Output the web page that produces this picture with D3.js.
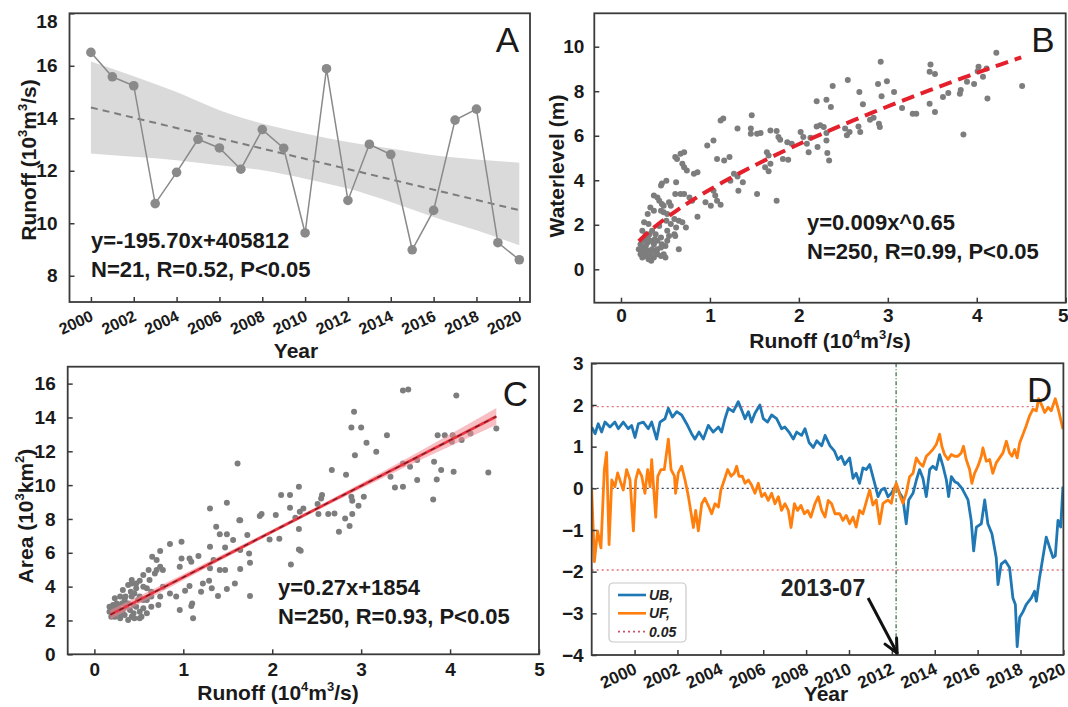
<!DOCTYPE html>
<html>
<head>
<meta charset="utf-8">
<script src="https://cdn.jsdelivr.net/npm/d3@7"></script>
<style>
body { margin: 0; background: #fff; }
text { font-family: "Liberation Sans", Arial, sans-serif; }
</style>
</head>
<body>
<div id="chart"></div>
<script>
// ---- panel A : yearly runoff ----
var yearsA = [2000, 2001, 2002, 2003, 2004, 2005, 2006, 2007, 2008, 2009, 2010,
              2011, 2012, 2013, 2014, 2015, 2016, 2017, 2018, 2019, 2020];
var runoffA = [16.51, 15.58, 15.24, 10.75, 11.94, 13.20, 12.87, 12.06, 13.57, 12.86, 9.63,
               15.89, 10.87, 13.01, 12.62, 8.99, 10.49, 13.93, 14.35, 9.26, 8.61];
var bandYearsA = [2000, 2002, 2004, 2006, 2008, 2010, 2012, 2014, 2016, 2018, 2020];
var bandUpperA = [16.16, 15.60, 15.00, 14.31, 13.80, 13.42, 13.10, 12.85, 12.59, 12.43, 12.31];
var bandLowerA = [12.66, 12.53, 12.40, 12.21, 12.02, 11.70, 11.32, 10.81, 10.24, 9.73, 9.16];
var fitA = { slope: -195.70, intercept: 405812 }; // m3/s per year
var tickYearsA = [2000, 2002, 2004, 2006, 2008, 2010, 2012, 2014, 2016, 2018, 2020];

// ---- panel B : runoff vs water level ----
var pointsB = [[2.92,9.32],[4.22,9.73],[3.48,9.2],[3.47,8.87],[3.53,8.77],[2.55,8.5],[2.38,8.23],[2.89,8.32],[2.99,8.45],
  [2.68,7.97],[2.93,7.77],[3.07,7.97],[2.2,7.55],[2.31,7.62],[2.36,7.29],[2.72,7.41],[3.16,7.25],[3.28,6.99],[3.32,6.99],
  [3.47,7.44],[3.53,7.07],[3.62,7.74],[3.68,7.92],[3.81,7.89],[3.82,8.05],[3.89,8.42],[3.97,8.32],[4.02,9.1],[4.07,8.65],
  [4.11,9.02],[4.12,7.67],[3.85,6.06],[4.51,8.23],[4.01,8.9],[2.84,6.81],[2.9,6.54],[2.91,6.39],[2.8,6.72],[2.67,6.42],
  [2.52,6.32],[2.54,6.02],[2.57,6.17],[2.69,6.17],[2.24,6.47],[2.2,6.42],[2.28,6.39],[2.31,6.12],[2.31,5.79],[2.21,5.49],
  [2.34,4.89],[2.32,5.22],[2.09,5.64],[2.11,5.26],[2.02,6.17],[2.05,5.94],[1.92,5.64],[2.13,5.91],[1.87,5.71],[1.79,5.82],
  [1.82,4.96],[1.88,4.92],[1.68,6.24],[1.75,6.21],[1.77,5.94],[1.64,5.26],[1.66,5.11],[1.68,4.74],[1.62,4.59],[1.66,4.41],
  [1.75,3.08],[1.53,3.38],[1.46,6.32],[1.46,6.09],[1.47,6.92],[1.53,6.09],[1.57,6.12],[1.31,6.32],[1.12,6.69],[1.15,6.77],
  [1.04,5.79],[0.97,5.56],[1.08,4.96],[1.16,4.89],[1.22,5.04],[1.27,4.29],[1.31,4.17],[1.32,3.53],[1.37,3.91],[1.23,3.98],
  [1.04,3.53],[1.06,3.31],[1.08,3.08],[1.12,2.9],[1.01,2.86],[0.95,3.01],[0.86,2.36],[0.8,3.08],[0.77,3.23],[0.82,4.29],
  [0.86,4.36],[0.74,4.44],[0.71,4.59],[0.69,4.74],[0.67,5.19],[0.63,4.96],[0.71,5.26],[0.61,5.04],[0.62,3.91],[0.67,3.38],
  [0.71,3.38],[0.61,3.38],[0.65,2.18],[0.69,2.11],[0.73,1.88],[0.62,1.88],[0.6,1.58],[0.61,1.5],[0.65,0.9],[0.51,2.18],
  [0.48,2.56],[0.46,3.86],[0.45,3.76],[0.51,3.98],[0.41,3.23],[0.37,3.31],[0.43,3.08],[0.46,2.93],[0.54,3.01],[0.56,2.86],
  [0.48,2.86],[0.33,2.78],[0.45,2.63],[0.52,2.48],[0.6,2.26],[0.56,2.03],[0.52,1.73],[0.54,1.5],[0.5,1.05],[0.52,1.28],
  [0.37,2.63],[0.3,2.48],[0.26,2.11],[0.24,1.73],[0.22,1.13],[0.28,1.58],[0.31,2.03],[0.35,1.73],[0.39,1.58],[0.43,1.95],
  [0.45,1.43],[0.46,1.13],[0.41,0.9],[0.37,1.13],[0.33,1.28],[0.3,1.43],[0.26,1.28],[0.2,0.9],[0.22,0.68],[0.24,0.83],
  [0.28,0.6],[0.31,0.45],[0.34,0.38],[0.37,0.53],[0.41,0.68],[0.45,0.6],[0.48,0.68],[0.3,0.83],[0.26,0.98],[0.35,0.9],
  [0.39,0.75],[0.33,0.68],[0.28,1.05],[0.22,0.9],[0.32,1.58],[0.41,1.28],[0.45,0.98],[0.5,0.53],[0.24,0.53],[0.38,1.35],
  [0.3,1.2],[0.27,0.75]];
var fitB = { coef: 0.009, power: 0.65, from: 0.2, to: 4.5 }; // x in m3/s

// ---- panel C : runoff vs area ----
var pointsC = [[3.53,15.65],[3.47,15.6],[4.07,15.3],[2.92,14.33],[2.89,13.4],[3.0,13.4],[3.29,12.95],[3.06,12.5],[3.17,11.97],
  [2.93,11.77],[3.86,12.95],[3.94,12.95],[4.03,12.95],[4.13,12.66],[4.23,13.05],[4.52,13.35],[4.02,12.56],[3.63,11.48],
  [3.47,11.28],[3.55,11.08],[3.82,11.38],[3.9,10.89],[3.85,10.33],[3.63,10.3],[3.47,9.9],[3.38,9.86],[3.81,9.15],[4.04,10.79],
  [4.43,10.75],[3.33,10.49],[2.67,10.89],[2.83,10.61],[2.89,9.31],[2.9,9.07],[3.03,9.31],[2.97,8.78],[2.7,8.33],[2.63,8.29],
  [2.82,8.03],[2.9,8.29],[2.75,7.24],[2.87,7.58],[2.55,9.21],[2.56,9.41],[2.51,8.88],[2.52,8.29],[2.3,9.9],[2.2,9.41],
  [2.1,9.41],[2.2,8.66],[2.31,8.43],[2.35,8.62],[2.26,8.07],[2.04,8.23],[1.86,8.17],[1.88,8.29],[2.08,6.83],[1.97,6.79],
  [2.3,7.4],[2.32,6.12],[2.3,6.2],[2.21,5.31],[1.72,7.05],[1.63,7.93],[1.64,7.93],[1.61,11.28],[1.49,8.96],[1.49,7.09],
  [1.41,7.09],[1.56,6.75],[1.47,6.32],[1.3,8.62],[1.3,6.36],[0.98,6.65],[1.07,5.67],[1.09,5.47],[1.17,5.81],[1.3,5.08],
  [1.41,4.98],[1.64,6.16],[1.74,5.96],[1.75,5.41],[1.64,5.04],[1.47,4.98],[1.49,3.86],[1.58,4.19],[1.75,3.44],[1.39,3.44],
  [1.29,4.35],[1.22,4.19],[1.32,3.9],[1.07,4.04],[1.02,3.76],[0.92,3.41],[0.96,2.62],[1.11,2.13],[1.1,3.01],[1.09,2.85],
  [0.98,5.67],[0.96,5.18],[0.85,6.52],[0.74,6.1],[0.65,5.77],[0.7,5.57],[0.74,5.18],[0.77,4.98],[0.68,4.78],[0.62,4.39],
  [0.77,4.0],[0.85,3.6],[0.74,3.41],[0.72,2.91],[0.64,2.81],[0.55,3.21],[0.47,4.19],[0.42,4.39],[0.45,3.6],[0.51,3.41],
  [0.59,3.9],[0.64,3.41],[0.38,4.1],[0.32,3.8],[0.29,3.41],[0.25,3.01],[0.21,2.62],[0.19,2.22],[0.23,2.22],[0.27,2.42],
  [0.29,2.13],[0.32,2.62],[0.34,2.32],[0.36,2.81],[0.38,3.01],[0.4,2.62],[0.42,2.22],[0.44,2.42],[0.45,2.13],[0.47,2.81],
  [0.51,2.52],[0.53,2.22],[0.55,2.72],[0.59,2.42],[0.25,2.72],[0.31,3.01],[0.21,2.91],[0.17,2.52],[0.23,3.31],[0.34,3.21],
  [0.42,3.41],[0.49,3.21],[0.44,2.91],[0.29,2.62],[0.38,2.03],[0.51,2.13],[0.17,2.81],[0.27,2.81],[0.31,2.42],[0.35,3.41],
  [0.41,3.7],[0.47,3.9],[0.42,4.19],[0.51,4.35],[0.55,4.0],[0.59,3.21],[0.64,3.7],[0.7,4.98],[0.61,4.98],[0.55,4.69],
  [1.2,3.7],[1.34,5.57],[1.37,7.54]];
var fitC = { slope: 0.27, intercept: 1854, from: 0.18, to: 4.52 }; // x in m3/s, y in km2
var bandRunoffC = [0.18, 1.0, 2.0, 2.5, 3.0, 4.0, 4.52];
var bandHalfC = [0.28, 0.18, 0.12, 0.12, 0.15, 0.35, 0.5];

// ---- panel D : Mann-Kendall UB / UF ----
var ubSeries = [[2000.00,1.47],[2000.15,1.31],[2000.29,1.55],[2000.44,1.35],[2000.59,1.59],[2000.81,1.47],[2001.03,1.59],
  [2001.18,1.43],[2001.40,1.59],[2001.62,1.43],[2001.77,1.51],[2001.92,1.22],[2002.07,1.55],[2002.29,1.59],[2002.51,1.43],
  [2002.66,1.59],[2002.88,1.18],[2003.03,1.59],[2003.25,1.67],[2003.40,1.92],[2003.58,1.71],[2003.77,1.84],[2003.99,1.76],
  [2004.21,1.55],[2004.43,1.31],[2004.58,1.18],[2004.76,1.35],[2004.95,1.18],[2005.17,1.51],[2005.39,1.35],[2005.62,1.47],
  [2005.76,1.35],[2005.91,1.67],[2006.06,1.92],[2006.28,1.84],[2006.50,2.08],[2006.65,1.88],[2006.80,1.67],[2006.95,1.84],
  [2007.09,1.59],[2007.24,1.80],[2007.46,2.00],[2007.61,1.67],[2007.80,1.59],[2007.98,1.76],[2008.20,1.67],[2008.42,1.43],
  [2008.57,1.47],[2008.75,1.35],[2008.94,1.18],[2009.09,1.35],[2009.31,1.27],[2009.46,1.43],[2009.64,1.10],[2009.83,0.98],
  [2009.98,1.14],[2010.20,1.02],[2010.35,1.27],[2010.57,1.02],[2010.76,0.90],[2010.92,0.69],[2011.07,0.77],[2011.22,0.57],
  [2011.44,0.73],[2011.59,0.24],[2011.73,0.36],[2011.88,0.12],[2012.03,0.49],[2012.18,0.45],[2012.33,0.57],[2012.47,0.28],
  [2012.55,0.12],[2012.70,-0.20],[2012.84,-0.04],[2012.99,0.00],[2013.14,-0.20],[2013.29,-0.12],[2013.51,0.08],[2013.66,-0.12],
  [2013.80,-0.24],[2013.95,-0.85],[2014.06,-0.28],[2014.25,-0.12],[2014.40,0.20],[2014.54,0.45],[2014.69,0.24],[2014.84,-0.20],
  [2014.99,0.45],[2015.13,0.53],[2015.28,0.45],[2015.43,0.81],[2015.58,0.53],[2015.73,0.20],[2015.83,-0.20],[2015.95,0.28],
  [2016.10,0.16],[2016.24,0.12],[2016.42,0.00],[2016.54,-0.12],[2016.69,-0.28],[2016.83,-0.77],[2016.94,-1.50],[2017.06,-0.93],
  [2017.28,-0.85],[2017.43,-0.28],[2017.57,-0.85],[2017.75,-1.09],[2017.94,-1.66],[2018.02,-2.31],[2018.16,-1.82],[2018.34,-1.74],
  [2018.53,-1.90],[2018.68,-2.63],[2018.79,-2.79],[2018.87,-3.80],[2018.98,-3.10],[2019.13,-2.96],[2019.27,-2.79],[2019.50,-2.63],
  [2019.64,-2.47],[2019.72,-2.71],[2019.86,-2.15],[2020.01,-1.66],[2020.16,-1.17],[2020.31,-1.42],[2020.46,-1.66],[2020.56,-1.62],
  [2020.68,-0.77],[2020.80,-0.93],[2020.90,0.04]];
var ufSeries = [[2000.00,-0.04],[2000.12,-1.76],[2000.26,-1.02],[2000.41,-1.43],[2000.56,0.45],[2000.66,0.86],[2000.77,-1.35],
  [2000.89,0.20],[2001.03,0.04],[2001.15,0.37],[2001.30,0.12],[2001.40,-0.04],[2001.55,0.45],[2001.70,0.20],[2001.85,-1.02],
  [2001.95,0.20],[2002.07,0.45],[2002.22,0.29],[2002.36,-0.12],[2002.48,0.45],[2002.59,0.04],[2002.66,0.69],[2002.84,-0.69],
  [2002.93,0.29],[2003.07,0.45],[2003.22,0.45],[2003.40,1.18],[2003.52,0.45],[2003.67,0.29],[2003.72,-0.12],[2003.84,0.37],
  [2003.99,0.53],[2004.14,0.20],[2004.29,-0.20],[2004.51,-0.94],[2004.61,-0.53],[2004.73,-1.02],[2004.88,-0.37],[2005.02,-0.24],
  [2005.20,-0.45],[2005.32,-0.61],[2005.47,-0.37],[2005.62,-0.45],[2005.73,-0.04],[2005.88,0.20],[2006.03,0.45],[2006.18,0.29],
  [2006.33,0.37],[2006.43,0.53],[2006.53,0.29],[2006.68,0.29],[2006.80,0.12],[2006.95,0.20],[2007.09,0.08],[2007.24,-0.12],
  [2007.39,0.12],[2007.54,-0.20],[2007.68,-0.12],[2007.83,-0.29],[2007.98,-0.12],[2008.13,-0.37],[2008.28,-0.20],[2008.42,-0.53],
  [2008.57,-0.37],[2008.72,-0.53],[2008.84,-0.94],[2008.99,-0.37],[2009.13,-0.53],[2009.28,-0.41],[2009.43,-0.61],[2009.58,-0.53],
  [2009.72,-0.69],[2009.90,-0.37],[2010.05,-0.20],[2010.20,-0.53],[2010.35,-0.69],[2010.49,-0.29],[2010.64,-0.37],[2010.79,-0.61],
  [2011.00,-0.61],[2011.14,-0.77],[2011.29,-0.65],[2011.44,-0.85],[2011.59,-0.69],[2011.73,-0.93],[2011.88,-0.53],[2012.03,-0.61],
  [2012.18,-0.32],[2012.33,-0.04],[2012.47,-0.40],[2012.62,-0.28],[2012.77,-0.85],[2012.92,-0.36],[2013.14,-0.28],[2013.29,-0.36],
  [2013.41,-0.04],[2013.51,0.12],[2013.66,-0.16],[2013.80,-0.36],[2013.95,-0.12],[2014.10,0.28],[2014.25,0.36],[2014.40,0.73],
  [2014.54,0.61],[2014.69,0.53],[2014.84,0.77],[2014.99,0.85],[2015.13,0.93],[2015.28,1.05],[2015.43,1.30],[2015.53,1.01],
  [2015.65,0.81],[2015.80,0.69],[2015.95,0.81],[2016.10,0.77],[2016.24,0.77],[2016.39,0.85],[2016.49,1.01],[2016.61,0.69],
  [2016.76,0.45],[2016.86,0.12],[2016.98,0.36],[2017.13,0.53],[2017.28,0.77],[2017.35,0.97],[2017.50,0.65],[2017.65,0.69],
  [2017.79,0.36],[2017.94,0.61],[2018.09,0.73],[2018.24,0.85],[2018.39,1.13],[2018.53,0.85],[2018.64,0.77],[2018.76,0.93],
  [2018.87,0.73],[2018.98,1.09],[2019.13,1.30],[2019.27,1.50],[2019.42,1.74],[2019.57,1.90],[2019.72,1.86],[2019.82,2.15],
  [2019.94,2.02],[2020.09,1.82],[2020.24,1.94],[2020.38,1.86],[2020.56,2.15],[2020.71,1.86],[2020.90,1.42]];
var tickYearsD = [2000, 2002, 2004, 2006, 2008, 2010, 2012, 2014, 2016, 2018, 2020];
var changePoint = { year: 2013.5, label: "2013-07" };
var critLevel = 1.96;

var FONT = '"Liberation Sans", Arial, sans-serif',
    INK = "#1a1a1a",
    AXIS = "#3a3a3a";

var svg = d3.select("#chart").append("svg")
    .attr("width", 1068)
    .attr("height", 707);

function drawFrame(b) {
    svg.append("rect")
        .attr("x", b.left).attr("y", b.top)
        .attr("width", b.right - b.left).attr("height", b.bottom - b.top)
        .attr("fill", "none").attr("stroke", AXIS).attr("stroke-width", 1.8);
}

function styleAxis(g, size) {
    g.select(".domain").remove();
    g.selectAll("line").attr("stroke", AXIS).attr("stroke-width", 1.5);
    g.selectAll("text")
        .attr("font-size", size).attr("font-weight", "bold")
        .attr("font-family", FONT).attr("fill", INK);
}

// text with superscripts, parts = [[str, isSup], ...]
function richText(sel, parts, fs) {
    var up = false;
    parts.forEach(function(p) {
        var t = sel.append("tspan").text(p[0]);
        if (p[1]) {
            t.attr("font-size", fs * 0.62);
            if (!up) { t.attr("dy", -fs * 0.42); up = true; }
        } else if (up) {
            t.attr("dy", fs * 0.42); up = false;
        }
    });
}

function title(x, y, parts, rotate) {
    var t = svg.append("text")
        .attr("font-size", 21).attr("font-weight", "bold")
        .attr("fill", INK).attr("text-anchor", "middle");
    if (rotate) t.attr("transform", "translate(" + x + "," + y + ") rotate(-90)");
    else t.attr("x", x).attr("y", y);
    richText(t, parts, 21);
}

function panelLetter(b, letter) {
    svg.append("text")
        .attr("x", b.right - 11).attr("y", b.top + 39)
        .attr("text-anchor", "end").attr("font-size", 35)
        .attr("fill", INK).text(letter);
}

function statText(x, y, lines) {
    lines.forEach(function(l, i) {
        svg.append("text")
            .attr("x", x).attr("y", y + i * 29)
            .attr("font-size", 22).attr("font-weight", "bold")
            .attr("fill", INK).text(l);
    });
}

function rotateYearLabels(g) {
    g.selectAll("text")
        .attr("y", 0).attr("dy", 0)
        .attr("text-anchor", "end")
        .attr("transform", "translate(3,18) rotate(-25)");
}

/*****************************************************************************
 * Panel A
 */
function drawPanelA() {
    var b = { left: 69.5, right: 530, top: 13.3, bottom: 302 };
    var x = d3.scaleLinear().domain([1999, 2020.5]).range([b.left, b.right]);
    var y = d3.scaleLinear().domain([7, 18]).range([b.bottom, b.top]);

    var band = bandYearsA.map(function(d, i) { return { yr: d, hi: bandUpperA[i], lo: bandLowerA[i] }; });
    svg.append("path")
        .datum(band)
        .attr("fill", "#dadada")
        .attr("d", d3.area().curve(d3.curveMonotoneX)
            .x(function(d) { return x(d.yr); })
            .y0(function(d) { return y(d.lo); })
            .y1(function(d) { return y(d.hi); }));

    var fitEnds = [yearsA[0], yearsA[yearsA.length - 1]];
    svg.append("path")
        .datum(fitEnds)
        .attr("fill", "none").attr("stroke", "#7c7c7c")
        .attr("stroke-width", 2).attr("stroke-dasharray", "7,5")
        .attr("d", d3.line()
            .x(function(d) { return x(d); })
            .y(function(d) { return y((fitA.slope * d + fitA.intercept) / 1000); }));

    svg.append("path")
        .datum(yearsA)
        .attr("fill", "none").attr("stroke", "#8a8a8a").attr("stroke-width", 1.5)
        .attr("d", d3.line()
            .x(function(d) { return x(d); })
            .y(function(d, i) { return y(runoffA[i]); }));

    svg.append("g").selectAll("circle")
        .data(yearsA).enter().append("circle")
        .attr("cx", function(d) { return x(d); })
        .attr("cy", function(d, i) { return y(runoffA[i]); })
        .attr("r", 4.8).attr("fill", "#8a8a8a");

    var gy = svg.append("g").attr("transform", "translate(" + b.left + ",0)")
        .call(d3.axisLeft(y).tickValues([8, 10, 12, 14, 16, 18]).tickFormat(d3.format("d"))
            .tickSizeInner(-5).tickSizeOuter(0).tickPadding(12));
    styleAxis(gy, 19);
    gy.selectAll("text").filter(function(d) { return d === 18; }).attr("dy", "0.75em");

    var gx = svg.append("g").attr("transform", "translate(0," + b.bottom + ")")
        .call(d3.axisBottom(x).tickValues(tickYearsA).tickFormat(d3.format("d"))
            .tickSizeInner(-5).tickSizeOuter(0));
    styleAxis(gx, 16);
    rotateYearLabels(gx);

    drawFrame(b);
    panelLetter(b, "A");
    statText(91, 248, ["y=-195.70x+405812", "N=21, R=0.52, P<0.05"]);
    title(296, 358, [["Year"]]);
    title(36, 160, [["Runoff (10"], ["3", 1], ["m"], ["3", 1], ["/s)"]], true);
}

/*****************************************************************************
 * Panel B
 */
function drawPanelB() {
    var b = { left: 594.3, right: 1065.7, top: 13.3, bottom: 302.7 };
    var x = d3.scaleLinear().domain([-0.3, 5]).range([b.left, b.right]);
    var y = d3.scaleLinear().domain([-1.5, 11.5]).range([b.bottom, b.top]);

    svg.append("g").selectAll("circle")
        .data(pointsB).enter().append("circle")
        .attr("cx", function(d) { return x(d[0]); })
        .attr("cy", function(d) { return y(d[1]); })
        .attr("r", 3).attr("fill", "#7d7d7d");

    // fitted power curve, y = a * (runoff in m3/s)^b
    var xs = d3.range(60).map(function(i) { return fitB.from + (fitB.to - fitB.from) * i / 59; });
    svg.append("path")
        .datum(xs)
        .attr("fill", "none").attr("stroke", "#e3202b")
        .attr("stroke-width", 4).attr("stroke-dasharray", "13,7")
        .attr("d", d3.line()
            .x(function(d) { return x(d); })
            .y(function(d) { return y(fitB.coef * Math.pow(d * 10000, fitB.power)); }));

    var gy = svg.append("g").attr("transform", "translate(" + b.left + ",0)")
        .call(d3.axisLeft(y).tickValues([0, 2, 4, 6, 8, 10]).tickFormat(d3.format("d"))
            .tickSizeInner(-5).tickSizeOuter(0).tickPadding(10));
    styleAxis(gy, 19);

    var gx = svg.append("g").attr("transform", "translate(0," + b.bottom + ")")
        .call(d3.axisBottom(x).tickValues([0, 1, 2, 3, 4, 5]).tickFormat(d3.format("d"))
            .tickSizeInner(-5).tickSizeOuter(0).tickPadding(6));
    styleAxis(gx, 19);
    // last label sits at the page edge
    gx.selectAll("text").filter(function(d) { return d === 5; }).attr("dx", -3);

    drawFrame(b);
    panelLetter(b, "B");
    statText(807, 230, ["y=0.009x^0.65", "N=250, R=0.99, P<0.05"]);
    title(830, 348, [["Runoff (10"], ["4", 1], ["m"], ["3", 1], ["/s)"]]);
    title(564, 166, [["Waterlevel (m)"]], true);
}

/*****************************************************************************
 * Panel C
 */
function drawPanelC() {
    var b = { left: 67.7, right: 539, top: 366.7, bottom: 654.3 };
    var x = d3.scaleLinear().domain([-0.3, 5]).range([b.left, b.right]);
    var y = d3.scaleLinear().domain([0, 17]).range([b.bottom, b.top]);

    svg.append("g").selectAll("circle")
        .data(pointsC).enter().append("circle")
        .attr("cx", function(d) { return x(d[0]); })
        .attr("cy", function(d) { return y(d[1]); })
        .attr("r", 3).attr("fill", "#7d7d7d");

    function fit(r) { return (fitC.slope * r * 10000 + fitC.intercept) / 1000; }

    var band = bandRunoffC.map(function(d, i) { return { r: d, h: bandHalfC[i] }; });
    svg.append("path")
        .datum(band)
        .attr("fill", "#f08a94").attr("fill-opacity", 0.55)
        .attr("d", d3.area().curve(d3.curveMonotoneX)
            .x(function(d) { return x(d.r); })
            .y0(function(d) { return y(fit(d.r) - d.h); })
            .y1(function(d) { return y(fit(d.r) + d.h); }));

    var fitLine = d3.line()
        .x(function(d) { return x(d); })
        .y(function(d) { return y(fit(d)); });
    svg.append("path").datum([fitC.from, fitC.to])
        .attr("stroke", "#e8323e").attr("stroke-width", 2.6).attr("fill", "none")
        .attr("d", fitLine);
    svg.append("path").datum([fitC.from, fitC.to])
        .attr("stroke", "#6a1c22").attr("stroke-width", 1.2).attr("fill", "none")
        .attr("stroke-dasharray", "5,5")
        .attr("d", fitLine);

    var gy = svg.append("g").attr("transform", "translate(" + b.left + ",0)")
        .call(d3.axisLeft(y).tickValues([0, 2, 4, 6, 8, 10, 12, 14, 16]).tickFormat(d3.format("d"))
            .tickSizeInner(-5).tickSizeOuter(0).tickPadding(12));
    styleAxis(gy, 19);

    var gx = svg.append("g").attr("transform", "translate(0," + b.bottom + ")")
        .call(d3.axisBottom(x).tickValues([0, 1, 2, 3, 4, 5]).tickFormat(d3.format("d"))
            .tickSizeInner(-5).tickSizeOuter(0).tickPadding(8));
    styleAxis(gx, 19);

    drawFrame(b);
    panelLetter(b, "C");
    statText(278, 595, ["y=0.27x+1854", "N=250, R=0.93, P<0.05"]);
    title(278, 700, [["Runoff (10"], ["4", 1], ["m"], ["3", 1], ["/s)"]]);
    title(33, 516, [["Area (10"], ["3", 1], ["km"], ["2", 1], [")"]], true);
}

/*****************************************************************************
 * Panel D
 */
function drawPanelD() {
    var b = { left: 591.7, right: 1063.4, top: 363.3, bottom: 655 };
    var t = d3.scaleLinear().domain([2000, 2020.92]).range([b.left, b.right]);
    // year labels sit where the original figure put them
    var tickX = d3.scaleLinear().domain([1998, 2020]).range([b.left, b.right]);
    var y = d3.scaleLinear().domain([-4, 3]).range([b.bottom, b.top]);

    svg.append("clipPath").attr("id", "clipD").append("rect")
        .attr("x", b.left).attr("y", b.top)
        .attr("width", b.right - b.left).attr("height", b.bottom - b.top);
    var g = svg.append("g").attr("clip-path", "url(#clipD)");

    g.selectAll(".crit").data([critLevel, -critLevel]).enter().append("line")
        .attr("x1", b.left).attr("x2", b.right)
        .attr("y1", function(d) { return y(d); }).attr("y2", function(d) { return y(d); })
        .attr("stroke", "#e0707c").attr("stroke-width", 1.3).attr("stroke-dasharray", "2,3");
    g.append("line")
        .attr("x1", b.left).attr("x2", b.right)
        .attr("y1", y(0)).attr("y2", y(0))
        .attr("stroke", "#34405a").attr("stroke-width", 1.3).attr("stroke-dasharray", "2,3");
    g.append("line")
        .attr("x1", t(changePoint.year)).attr("x2", t(changePoint.year))
        .attr("y1", b.top).attr("y2", b.bottom)
        .attr("stroke", "#2f6b34").attr("stroke-width", 1.2).attr("stroke-dasharray", "4,2,1,2");

    var line = d3.line()
        .x(function(d) { return t(d[0]); })
        .y(function(d) { return y(d[1]); });
    g.append("path").datum(ubSeries)
        .attr("fill", "none").attr("stroke", "#1f77b4").attr("stroke-width", 2.8)
        .attr("stroke-linejoin", "round").attr("d", line);
    g.append("path").datum(ufSeries)
        .attr("fill", "none").attr("stroke", "#ff7f0e").attr("stroke-width", 2.8)
        .attr("stroke-linejoin", "round").attr("d", line);

    var gy = svg.append("g").attr("transform", "translate(" + b.left + ",0)")
        .call(d3.axisLeft(y).tickValues([-4, -3, -2, -1, 0, 1, 2, 3]).tickFormat(d3.format("d"))
            .tickSizeInner(-5).tickSizeOuter(0).tickPadding(8));
    styleAxis(gy, 19);

    var gx = svg.append("g").attr("transform", "translate(0," + b.bottom + ")")
        .call(d3.axisBottom(tickX).tickValues(tickYearsD).tickFormat(d3.format("d"))
            .tickSizeInner(-5).tickSizeOuter(0));
    styleAxis(gx, 17);
    rotateYearLabels(gx);

    drawFrame(b);
    panelLetter(b, "D");

    // legend
    var lg = svg.append("g").attr("transform", "translate(609,583)");
    lg.append("rect").attr("width", 77).attr("height", 59).attr("rx", 4)
        .attr("fill", "#fff").attr("stroke", "#c8c8c8").attr("stroke-width", 1.2);
    var items = [
        { name: "UB,", color: "#1f77b4", dash: null, w: 2.6 },
        { name: "UF,", color: "#ff7f0e", dash: null, w: 2.6 },
        { name: "0.05", color: "#d0506a", dash: "2,3", w: 1.8 }
    ];
    items.forEach(function(it, i) {
        var yy = 12 + i * 18.3;
        lg.append("line").attr("x1", 9).attr("x2", 37).attr("y1", yy).attr("y2", yy)
            .attr("stroke", it.color).attr("stroke-width", it.w).attr("stroke-dasharray", it.dash);
        lg.append("text").attr("x", 40).attr("y", yy + 5)
            .attr("font-size", 14).attr("font-weight", "bold").attr("font-style", "italic")
            .attr("fill", "#222").text(it.name);
    });

    // change point annotation
    var tipX = t(changePoint.year) + 1, tipY = b.bottom - 2,
        tailX = tipX - 29, tailY = tipY - 55;
    var ang = Math.atan2(tipY - tailY, tipX - tailX);
    svg.append("line").attr("x1", tailX).attr("y1", tailY).attr("x2", tipX).attr("y2", tipY)
        .attr("stroke", "#111").attr("stroke-width", 3);
    [-0.45, 0.45].forEach(function(da) {
        svg.append("line")
            .attr("x1", tipX).attr("y1", tipY)
            .attr("x2", tipX - 15 * Math.cos(ang + da)).attr("y2", tipY - 15 * Math.sin(ang + da))
            .attr("stroke", "#111").attr("stroke-width", 3).attr("stroke-linecap", "round");
    });
    svg.append("text").attr("x", 823).attr("y", 596)
        .attr("text-anchor", "middle").attr("font-size", 23).attr("font-weight", "bold")
        .attr("fill", "#222").text(changePoint.label);

    title(826, 701, [["Year"]]);
}

drawPanelA();
drawPanelB();
drawPanelC();
drawPanelD();
</script>
</body>
</html>
